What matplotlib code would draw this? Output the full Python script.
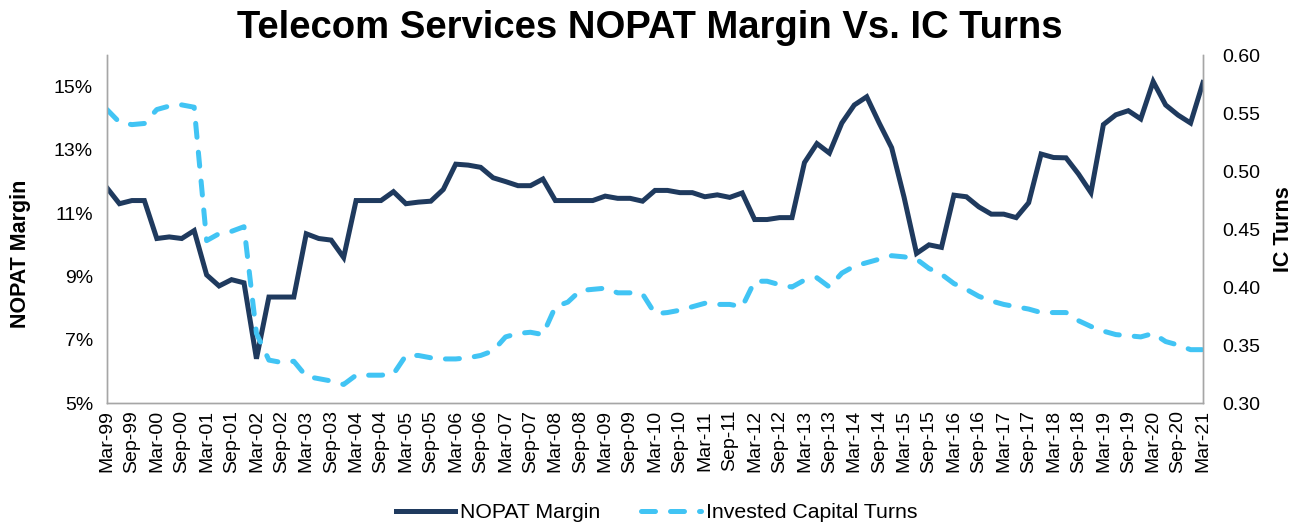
import numpy as np
import matplotlib
matplotlib.use("Agg")
import matplotlib.pyplot as plt
from matplotlib.ticker import FuncFormatter, FixedLocator

plt.rcParams['font.family'] = ['Liberation Sans', 'DejaVu Sans']

# quarterly dates Mar-99 .. Mar-21
months = ['Mar', 'Jun', 'Sep', 'Dec']
quarters = [f"{m}-{y % 100:02d}" for y in range(1999, 2022) for m in months][:89]

# NOPAT margin, %
nopat = [11.80, 11.30, 11.40, 11.40, 10.20, 10.25, 10.20, 10.45, 9.05, 8.70,
         8.90, 8.80, 6.40, 8.35, 8.35, 8.35, 10.35, 10.20, 10.15, 9.60,
         11.40, 11.40, 11.40, 11.68, 11.30, 11.35, 11.38, 11.75, 12.55, 12.52,
         12.45, 12.12, 12.00, 11.87, 11.87, 12.08, 11.40, 11.40, 11.40, 11.40,
         11.54, 11.47, 11.47, 11.38, 11.72, 11.72, 11.65, 11.65, 11.52, 11.58,
         11.50, 11.64, 10.80, 10.80, 10.86, 10.86, 12.60, 13.20, 12.90, 13.85,
         14.42, 14.68, 13.85, 13.07, 11.50, 9.73, 10.00, 9.92, 11.57, 11.52,
         11.20, 10.97, 10.97, 10.86, 11.33, 12.87, 12.76, 12.75, 12.24, 11.65,
         13.80, 14.11, 14.24, 13.98, 15.16, 14.42, 14.10, 13.85, 15.13]

# invested capital turns
ic_turns = [0.553, 0.542, 0.540, 0.541, 0.553, 0.556, 0.557, 0.555, 0.440, 0.446,
            0.448, 0.452, 0.360, 0.337, 0.335, 0.336, 0.323, 0.321, 0.319, 0.316,
            0.324, 0.324, 0.324, 0.325, 0.341, 0.341, 0.339, 0.338, 0.338, 0.339,
            0.341, 0.345, 0.357, 0.360, 0.361, 0.359, 0.383, 0.387, 0.397, 0.398,
            0.399, 0.395, 0.395, 0.394, 0.377, 0.378, 0.380, 0.383, 0.386, 0.385,
            0.385, 0.383, 0.405, 0.405, 0.402, 0.400, 0.406, 0.408, 0.400, 0.412,
            0.418, 0.421, 0.424, 0.427, 0.426, 0.424, 0.416, 0.411, 0.403, 0.398,
            0.392, 0.388, 0.385, 0.383, 0.381, 0.378, 0.378, 0.378, 0.371, 0.366,
            0.362, 0.359, 0.358, 0.357, 0.360, 0.353, 0.350, 0.346, 0.346]

navy = '#1F3A5E'
sky = '#41C4F4'
grey = '#A6A6A6'

x = np.arange(len(quarters))

fig = plt.figure(figsize=(13, 5.31), dpi=100)
ax = fig.add_axes([0.0823, 0.241, 0.8431, 0.6554])
ax2 = ax.twinx()

l1, = ax.plot(x, nopat, color=navy, lw=3.6, solid_joinstyle='miter', label='NOPAT Margin')
l2, = ax2.plot(x, ic_turns, color=sky, lw=3.6, linestyle=(0, (2.8, 3.0)),
               dash_capstyle='round', label='Invested Capital Turns')

ax.set_xlim(0, len(quarters) - 1)
ax.set_ylim(5, 16)
ax2.set_ylim(0.30, 0.60)

ax.yaxis.set_major_locator(FixedLocator([5, 7, 9, 11, 13, 15]))
ax.yaxis.set_major_formatter(FuncFormatter(lambda v, p: f"{v:.0f}%"))
ax2.yaxis.set_major_locator(FixedLocator(np.arange(0.30, 0.61, 0.05)))
ax2.yaxis.set_major_formatter(FuncFormatter(lambda v, p: f"{v:.2f}"))

ax.set_xticks(x[::2])
ax.set_xticklabels(quarters[::2], rotation=90)

for a in (ax, ax2):
    a.tick_params(length=0, labelsize=14, colors='black')
    a.spines['top'].set_visible(False)
    for s in ('left', 'right', 'bottom'):
        a.spines[s].set_color(grey)
        a.spines[s].set_linewidth(1.0)
ax.tick_params(axis='y', pad=10)
ax2.tick_params(axis='y', pad=14)
ax.tick_params(axis='x', pad=5)

ax.set_ylabel('NOPAT Margin', fontsize=15.5, fontweight='bold')
ax.yaxis.set_label_coords(-0.069, 0.43)
ax2.set_ylabel('IC Turns', fontsize=15.5, fontweight='bold')
ax2.yaxis.set_label_coords(1.064, 0.5)

fig.suptitle('Telecom Services NOPAT Margin Vs. IC Turns', fontsize=27.5,
             fontweight='bold', y=0.982)

fig.legend(handles=[l1, l2], loc='lower center', bbox_to_anchor=(0.505, -0.02),
           ncol=2, frameon=False, fontsize=15.3, handlelength=2.8,
           columnspacing=1.9, handletextpad=0.25)

fig.savefig('out.png', dpi=100)
